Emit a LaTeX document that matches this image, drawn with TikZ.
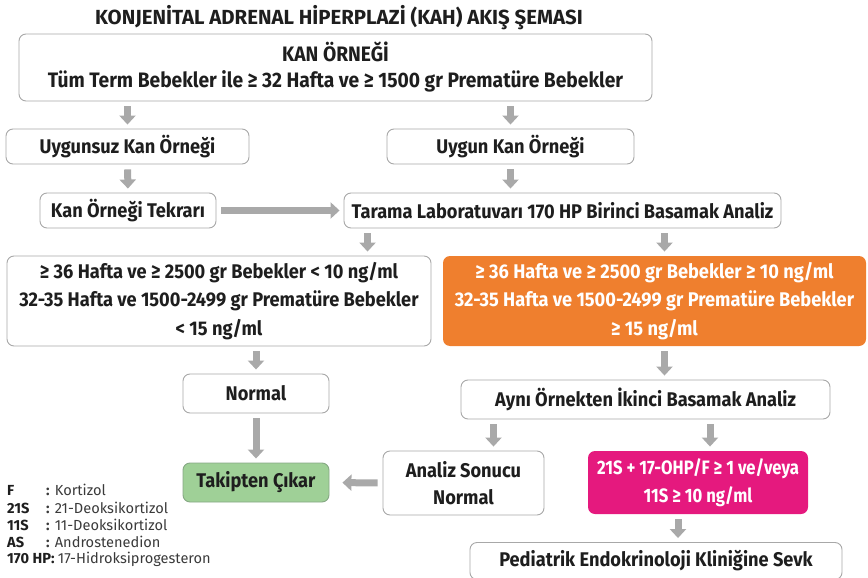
\documentclass[tikz,border=0pt]{standalone}
\usepackage{fontspec}
\setmainfont{Fira Sans}
\newfontfamily\boxfont{Fira Sans}[FakeStretch=0.92]
\newfontfamily\narrowfont{Fira Sans}[FakeStretch=0.86]
\newfontfamily\titlefont{Fira Sans}
\newfontfamily\legendfont{Fira Sans}
\usetikzlibrary{arrows.meta}
\definecolor{ink}{HTML}{1E1E1E}
\definecolor{legendink}{HTML}{3A3A3A}
\definecolor{boxgrey}{HTML}{A8A8A8}
\definecolor{arrowgrey}{HTML}{A9A9A9}
\definecolor{kahorange}{HTML}{EF7F2E}
\definecolor{kahmagenta}{HTML}{E5197E}
\definecolor{kahgreen}{HTML}{9FD097}
\definecolor{kahgreenline}{HTML}{86A884}
\tikzset{
  box/.style={draw=boxgrey, line width=0.9pt, rounded corners=7pt, fill=white,
    align=center, text=ink, inner sep=0pt,
    font=\boxfont\bfseries\fontsize{19.8}{27.5}\selectfont},
  filledbox/.style={box, draw=none, text=white},
  garrow/.style={draw=arrowgrey, line width=7pt,
    -{Triangle[width=16pt,length=9pt]}, shorten <=5pt, shorten >=4pt},
  legendkey/.style={anchor=west, inner sep=0pt, text=ink,
    font=\legendfont\bfseries\fontsize{14.6}{17}\selectfont},
  legendtext/.style={anchor=west, inner sep=0pt, text=legendink,
    font=\legendfont\fontsize{14.6}{17}\selectfont},
}
\begin{document}
\begin{tikzpicture}[x=1pt, y=-1pt]
\useasboundingbox (0,0) rectangle (868,578);

% title
\node[inner sep=0pt, text=ink, font=\titlefont\bfseries\fontsize{20.4}{24}\selectfont] (title) at (339,18)
  {KONJENİTAL ADRENAL HİPERPLAZİ (KAH) AKIŞ ŞEMASI};

% boxes
\node[box, minimum width=633, minimum height=67, font=\boxfont\bfseries\fontsize{20.9}{26}\selectfont] (sample) at (335.5,67.5)
  {KAN ÖRNEĞİ\\Tüm Term Bebekler ile ≥ 32 Hafta ve ≥ 1500 gr Prematüre Bebekler};
\node[box, minimum width=243, minimum height=35] (bad) at (127.5,146.5) {Uygunsuz Kan Örneği};
\node[box, minimum width=247, minimum height=35] (good) at (510.5,146.5) {Uygun Kan Örneği};
\node[box, minimum width=176, minimum height=35] (repeat) at (128,210.5) {Kan Örneği Tekrarı};
\node[box, minimum width=437, minimum height=35] (screen) at (562.5,210.5)
  {Tarama Laboratuvarı 170 HP Birinci Basamak Analiz};
\node[box, minimum width=424, minimum height=90, font=\boxfont\bfseries\fontsize{19.8}{28.5}\selectfont] (low) at (219,301)
  {≥ 36 Hafta ve ≥ 2500 gr Bebekler < 10 ng/ml\\32-35 Hafta ve 1500-2499 gr Prematüre Bebekler\\< 15 ng/ml};
\node[filledbox, fill=kahorange, minimum width=423, minimum height=90, font=\boxfont\bfseries\fontsize{19.8}{28.5}\selectfont] (high) at (654.5,301)
  {≥ 36 Hafta ve ≥ 2500 gr Bebekler ≥ 10 ng/ml\\32-35 Hafta ve 1500-2499 gr Prematüre Bebekler\\≥ 15 ng/ml};
\node[box, minimum width=146, minimum height=39] (normal) at (256,393.5) {Normal};
\node[box, minimum width=369, minimum height=39] (second) at (645.5,399.5)
  {Aynı Örnekten İkinci Basamak Analiz};
\node[box, draw=kahgreenline, fill=kahgreen, minimum width=146, minimum height=39] (release) at (256,482.5)
  {Takipten Çıkar};
\node[box, minimum width=161, minimum height=64] (resnormal) at (463.5,483)
  {Analiz Sonucu\\Normal};
\node[filledbox, fill=kahmagenta, minimum width=220, minimum height=63, font=\narrowfont\bfseries\fontsize{19.4}{27.5}\selectfont] (resabnormal) at (698,482.5)
  {21S + 17-OHP/F ≥ 1 ve/veya\\11S ≥ 10 ng/ml};
\node[box, minimum width=372, minimum height=37] (refer) at (656,561)
  {Pediatrik Endokrinoloji Kliniğine Sevk};

% connectors
\draw[garrow] (bad.north |- sample.south) -- (bad.north);
\draw[garrow] (good.north |- sample.south) -- (good.north);
\draw[garrow] (bad.south) -- (repeat.north);
\draw[garrow] (good.south) -- (good.south |- screen.north);
\draw[garrow] (repeat.east) -- (screen.west);
\draw[garrow] ([xshift=24pt]screen.south west) -- ([xshift=24pt]screen.south west |- low.north);
\draw[garrow] ([xshift=10pt]high.north |- screen.south) -- ([xshift=10pt]high.north);
\draw[garrow] (normal.north |- low.south) -- (normal.north);
\draw[garrow] (normal.south) -- (release.north);
\draw[garrow] ([xshift=10pt]high.south) -- ([xshift=10pt]high.south |- second.north);
\draw[garrow] ([xshift=30pt]resnormal.north |- second.south) -- ([xshift=30pt]resnormal.north);
\draw[garrow] ([xshift=12pt]resabnormal.north |- second.south) -- ([xshift=12pt]resabnormal.north);
\draw[garrow, shorten >=13pt] (resnormal.west) -- (release.east);
\draw[garrow] ([xshift=-20pt]resabnormal.south) -- ([xshift=-20pt]resabnormal.south |- refer.north);

% abbreviations
\node[legendkey] (kF) at (7,490) {F};
\node[legendtext] (tF) at (46,490) {\textbf{:} Kortizol};
\node[legendkey] (k21) at (7,508) {21S};
\node[legendtext] (t21) at (46,508) {\textbf{:} 21-Deoksikortizol};
\node[legendkey] (k11) at (7,525) {11S};
\node[legendtext] (t11) at (46,525) {\textbf{:} 11-Deoksikortizol};
\node[legendkey] (kAS) at (7,542) {AS};
\node[legendtext] (tAS) at (46,542) {\textbf{:} Androstenedion};
\node[legendkey] (kHP) at (7,559) {170 HP:};
\node[legendtext] (tHP) at (kHP.east) [xshift=3pt] {17-Hidroksiprogesteron};
\end{tikzpicture}
\end{document}
